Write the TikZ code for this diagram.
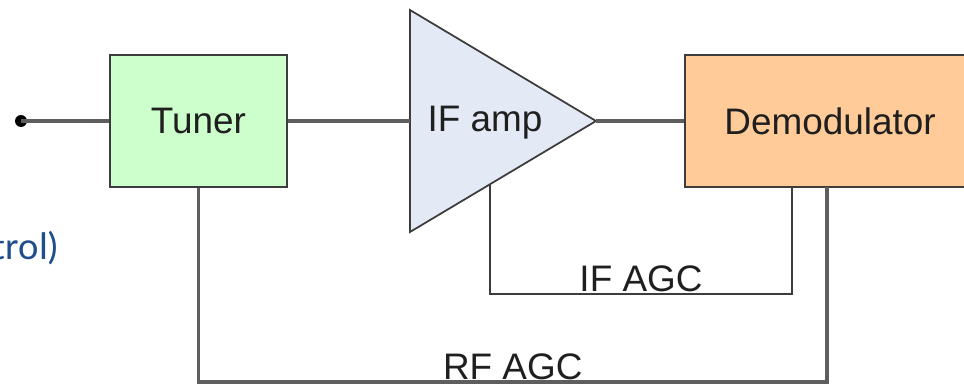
\documentclass[tikz,border=0pt]{standalone}
\usepackage{fontspec}
\setmainfont{Liberation Sans}
\newfontfamily\notefont{Carlito}
\usetikzlibrary{calc}
\definecolor{tunergreen}{HTML}{CCFFCC}
\definecolor{ampblue}{HTML}{E3EAF6}
\definecolor{demodorange}{HTML}{FFCC99}
\definecolor{wiregray}{HTML}{5E5E5E}
\definecolor{edgegray}{HTML}{3C3C3C}
\definecolor{noteblue}{HTML}{1F4E8C}
\begin{document}
\begin{tikzpicture}[x=0.02cm,y=-0.02cm,
	block/.style={draw=edgegray, line width=1.3pt, minimum height=2.64cm, text=black!88, font=\fontsize{21}{25}\selectfont},
	wire/.style={draw=wiregray, line width=1.8pt},
	lbl/.style={above, inner sep=0.5pt, text=black!88, font=\fontsize{21}{25}\selectfont}]
\clip (0,0) rectangle (964,385);
% Input
\fill (21,121) circle (6);
\coordinate (in) at (21,121);
% Tuner
\node[block, fill=tunergreen, minimum width=3.54cm] (tuner) at (198.5,121) {Tuner};
% IF amp
\coordinate (amptop) at (410,10);
\coordinate (ampapex) at (596,121);
\coordinate (ampbot) at (410,232);
\coordinate (ampin) at (410,121);
\draw[draw=edgegray, line width=1pt, fill=ampblue] (amptop) -- (ampapex) -- (ampbot) -- cycle;
\node[font=\fontsize{21}{25}\selectfont, text=black!88] (amp) at (485,123) {IF amp};
\coordinate (ampctl) at ($(ampbot)!0.43!(ampapex)$);
% Demodulator
\node[block, fill=demodorange, minimum width=5.8cm] (demod) at (830,121) {Demodulator};
\coordinate (ifport) at (792,187);
\coordinate (rfport) at (827,187);
% Note
\node[anchor=base east, inner sep=0pt, text=noteblue, font=\notefont\fontsize{22}{26}\selectfont] (note) at (60,259) {trol)};
% Signal path
\draw[wire] (in) -- (tuner.west);
\draw[wire] (tuner.east) -- (ampin);
\draw[wire] (ampapex) -- (demod.west);
% IF AGC
\draw[wire, line width=1.4pt, draw=edgegray] (ifport) -- (ifport |- 0,294) -- node[lbl] {IF AGC} (ampctl |- 0,294) -- (ampctl);
% RF AGC
\draw[wire] (rfport) -- (rfport |- 0,382) -- node[lbl] {RF AGC} (tuner.south |- 0,382) -- (tuner.south);
\end{tikzpicture}
\end{document}
